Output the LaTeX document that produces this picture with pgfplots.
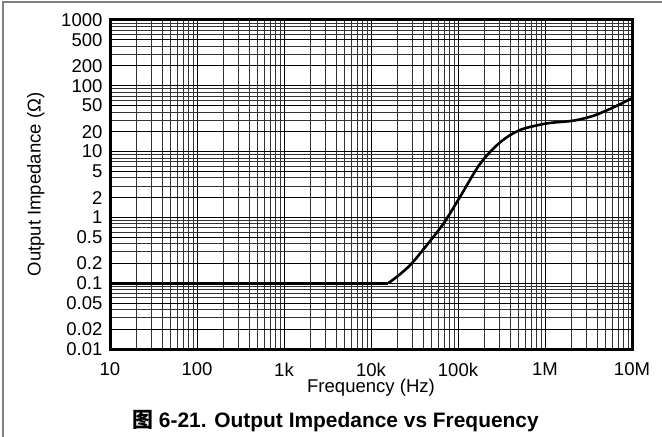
\documentclass[border=0pt]{standalone}
\usepackage{pgfplots}
\pgfplotsset{compat=1.18}
\usepackage{fontspec}
\setmainfont{Liberation Sans}
\newfontfamily\cjk{Noto Sans CJK SC}
\begin{document}
\fontsize{9.3}{11}\selectfont
\begin{tikzpicture}
\useasboundingbox (0,0) rectangle (331bp,218.5bp);
\draw[black!50, line width=1bp] (1.5bp,0bp) -- (1.5bp,217.25bp) -- (331bp,217.25bp);
\begin{axis}[
  at={(55bp,44bp)}, anchor=south west,
  scale only axis, width=261bp, height=164.5bp,
  xmode=log, ymode=log,
  xmin=10, xmax=1e7, ymin=0.01, ymax=1000,
  log basis x=10, log basis y=10,
  xtick={10,100,1000,1e4,1e5,1e6,1e7},
  xticklabels={10,100,1k,10k,100k,1M,10M},
  ytick={0.01,0.02,0.05,0.1,0.2,0.5,1,2,5,10,20,50,100,200,500,1000},
  yticklabels={0.01,0.02,0.05,0.1,0.2,0.5,1,2,5,10,20,50,100,200,500,1000},
  minor xtick={2e1,3e1,4e1,5e1,6e1,7e1,8e1,9e1,2e2,3e2,4e2,5e2,6e2,7e2,8e2,9e2,2e3,3e3,4e3,5e3,6e3,7e3,8e3,9e3,2e4,3e4,4e4,5e4,6e4,7e4,8e4,9e4,2e5,3e5,4e5,5e5,6e5,7e5,8e5,9e5,2e6,3e6,4e6,5e6,6e6,7e6,8e6,9e6},
  minor ytick={0.03,0.04,0.06,0.07,0.08,0.09,0.3,0.4,0.6,0.7,0.8,0.9,3,4,6,7,8,9,30,40,60,70,80,90,300,400,600,700,800,900},
  grid=both,
  major grid style={black, line width=0.5bp},
  minor grid style={black!80, line width=0.45bp},
  major tick length=0pt, minor tick length=0pt,
  axis line style={line width=1.5bp},
  /pgf/number format/assume math mode=true,
  tick label style={font=\fontsize{9.3}{11}\selectfont},
  xticklabel style={yshift=-3.5bp},
  yticklabel style={xshift=-0.5bp},
  xlabel={Frequency (Hz)},
  ylabel={Output Impedance (\symbol{"03A9})},
  label style={font=\fontsize{9.3}{11}\selectfont},
  xlabel style={at={(axis description cs:0.5,-0.118)}, anchor=center},
  ylabel style={at={(axis description cs:-0.142,0.5)}, anchor=center},
]
\addplot[black, line width=1.3bp] coordinates {(10,0.1) (15800,0.1)};
\addplot[black, line width=1.3bp, smooth, tension=0.5] coordinates {
(15800,0.1) (21000,0.133) (28000,0.187) (38000,0.3) (67800,0.8) (105000,2.03)
(179000,6.5) (304000,13.8) (516000,21.3) (1050000,26.8) (2110000,29.5)
(3590000,35) (6100000,46.9) (10000000,65)};
\end{axis}
\node[font=\bfseries\fontsize{10.5}{12}\selectfont, anchor=base] at (167.75bp,5bp) {{\cjk 图} 6-21. Output Impedance vs Frequency};
\end{tikzpicture}
\end{document}
